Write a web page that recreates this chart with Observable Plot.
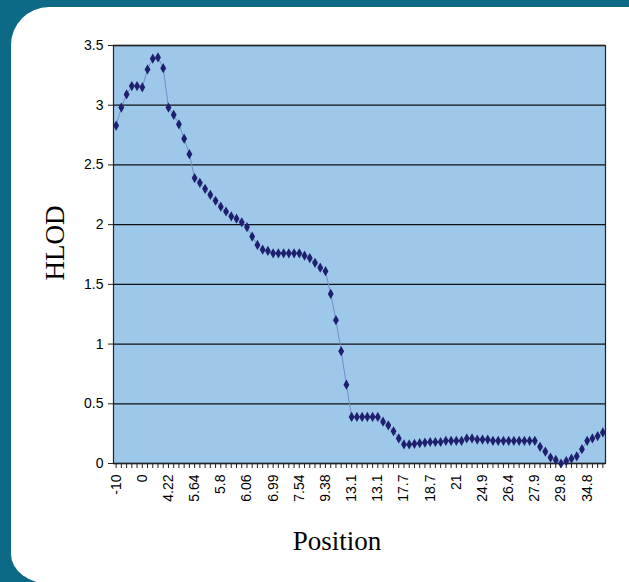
<!DOCTYPE html>
<html><head><meta charset="utf-8">
<script src="https://cdn.jsdelivr.net/npm/d3@7"></script>
<script src="https://cdn.jsdelivr.net/npm/@observablehq/plot@0.6"></script>
<style>
html,body{margin:0;padding:0;width:629px;height:582px;overflow:hidden;background:#0c6a86;}
#panel{position:absolute;left:11px;top:7px;width:700px;height:577px;background:#fff;border-radius:38px 0 0 40px / 38px 0 0 30px;}
#chart{position:absolute;left:0;top:0;}
#chart svg text{font-size:14px !important;font-family:"Liberation Sans",Arial,sans-serif !important;fill:#000;}
.title{position:absolute;font-family:"Liberation Serif","Times New Roman",serif;font-size:27px;color:#000;white-space:nowrap;}
#ytitle{left:55px;top:243px;transform:translate(-50%,-50%) rotate(-90deg);}
#xtitle{left:337px;top:541px;transform:translate(-50%,-50%);}
</style></head>
<body>
<div id="panel"></div>
<div id="chart"></div>
<div class="title" id="ytitle">HLOD</div>
<div class="title" id="xtitle">Position</div>
<script>
// HLOD value at each marker position (in order along the map)
const hlod = [
  2.83, 2.98, 3.09, 3.16, 3.16, 3.15, 3.30, 3.39, 3.40, 3.31,
  2.98, 2.92, 2.84, 2.72, 2.59, 2.39, 2.35, 2.30, 2.25, 2.20,
  2.15, 2.11, 2.07, 2.05, 2.02, 1.98, 1.90, 1.83, 1.79, 1.78,
  1.76, 1.76, 1.76, 1.76, 1.76, 1.76, 1.74, 1.72, 1.68, 1.64,
  1.61, 1.42, 1.20, 0.94, 0.66, 0.39, 0.39, 0.39, 0.39, 0.39,
  0.39, 0.35, 0.32, 0.27, 0.21, 0.16, 0.16, 0.165, 0.17, 0.175,
  0.18, 0.18, 0.18, 0.19, 0.19, 0.19, 0.19, 0.21, 0.21, 0.20,
  0.20, 0.20, 0.19, 0.19, 0.19, 0.19, 0.19, 0.19, 0.19, 0.19,
  0.19, 0.14, 0.10, 0.05, 0.03, 0.00, 0.02, 0.04, 0.06, 0.12,
  0.19, 0.21, 0.23, 0.26
];
// position labels shown on the category axis (every 5th category)
const tickLabels = ["-10", "0", "4.22", "5.64", "5.8", "6.06", "6.99", "7.54", "9.38", "13.1",
  "13.1", "17.7", "18.7", "21", "24.9", "26.4", "27.9", "29.8", "34.8"];
const labelEvery = 5;
const yTicks = [0, 0.5, 1, 1.5, 2, 2.5, 3, 3.5];

const idx = hlod.map((_, i) => i);
const data = hlod.map((v, i) => ({i, v}));

const chart = Plot.plot({
  width: 629, height: 582,
  marginLeft: 113, marginRight: 24, marginTop: 45, marginBottom: 119,
  style: {background: "transparent", fontFamily: "'Liberation Sans', Arial, sans-serif", fontSize: "14px", color: "#000", overflow: "visible"},
  x: {type: "point", domain: idx, padding: 0.5, round: false, axis: null},
  y: {domain: [0, 3.5], axis: null},
  marks: [
    Plot.frame({fill: "#9dc8ea", stroke: null}),
    Plot.ruleY(yTicks, {stroke: "#111", strokeWidth: 1.3}),
    Plot.frame({stroke: "#222", strokeWidth: 1.2}),
    Plot.axisY({ticks: yTicks, tickSize: 5, tickPadding: 5, fontSize: 14, tickFormat: d => String(d), label: null, stroke: "#222"}),
    Plot.axisX({ticks: idx, tickSize: 5, tickPadding: 6, tickRotate: -90, fontSize: 14, label: null, stroke: "#222",
      tickFormat: i => (i % labelEvery === 0 && tickLabels[i / labelEvery] !== undefined) ? tickLabels[i / labelEvery] : ""}),
    Plot.line(data, {x: "i", y: "v", stroke: "#6f8fc6", strokeWidth: 1}),
    Plot.dot(data, {x: "i", y: "v", symbol: "diamond", r: 3.1, fill: "#1f1f70", stroke: "none"})
  ]
});
document.getElementById("chart").appendChild(chart);
</script>
</body></html>
